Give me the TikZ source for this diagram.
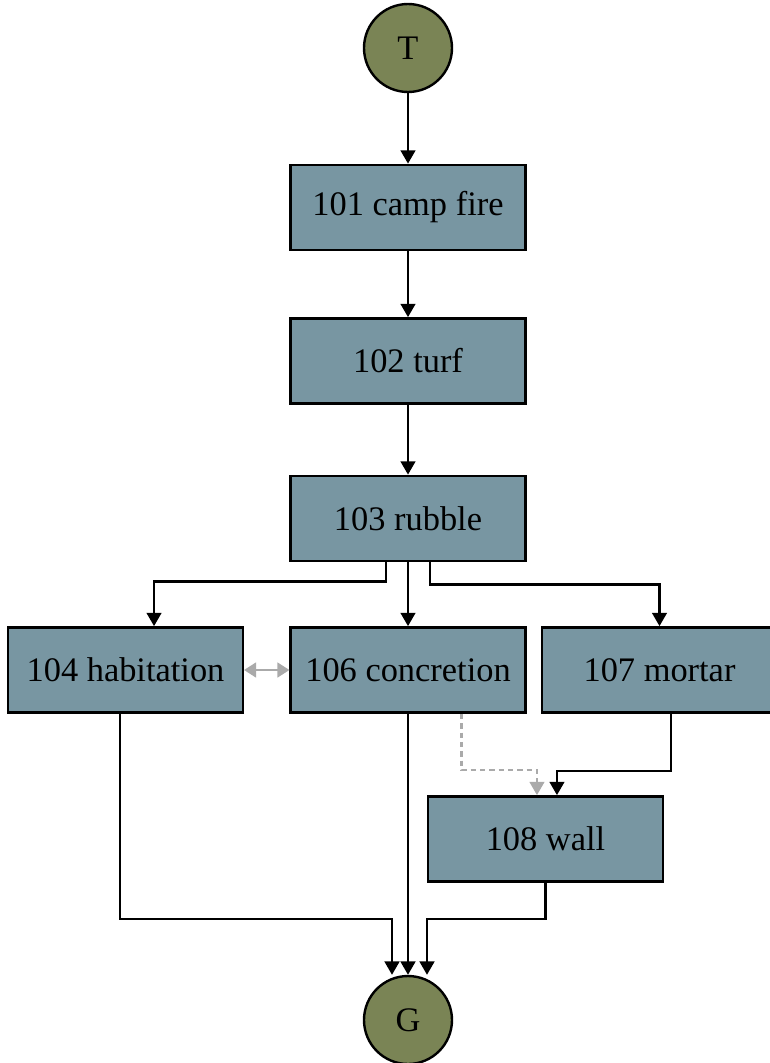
\documentclass[tikz,border=0pt]{standalone}
\usepackage{fontspec}
\setmainfont{Liberation Serif}
\usepackage{xcolor}
\usepackage{tikz}
\usetikzlibrary{arrows.meta, positioning}

\definecolor{unitfill}{HTML}{7896A2}
\definecolor{termfill}{HTML}{7A8455}
\definecolor{relgray}{HTML}{AAAAAA}

\tikzset{
  unit/.style={draw=black, line width=1.8pt, fill=unitfill, minimum width=176pt, minimum height=64pt, inner sep=0pt},
  term/.style={draw=black, line width=1.8pt, fill=termfill, circle, minimum size=66pt, inner sep=0pt},
  edge/.style={line width=1.8pt, -{Triangle[length=10pt,width=11pt]}},
  biedge/.style={line width=1.8pt, draw=relgray, {Triangle[length=9pt,width=11pt]}-{Triangle[length=9pt,width=11pt]}},
  dashedge/.style={line width=1.8pt, draw=relgray, dash pattern=on 4pt off 3pt, -{Triangle[length=10pt,width=11pt,fill=relgray]}}
}

\begin{document}
\begin{tikzpicture}[x=0.75pt, y=-0.75pt, font=\fontsize{25.8}{30}\selectfont]

\useasboundingbox (0,0) rectangle (769,1063);

\node[term] (T) at (408, 48) {T};
\node[unit] (r101) at (408, 207.5) {101 camp fire};
\node[unit] (r102) at (408, 361) {102 turf};
\node[unit] (r103) at (408, 518.5) {103 rubble};
\node[unit] (r104) at (125.5, 670) {104 habitation};
\node[unit] (r106) at (408, 670) {106 concretion};
\node[unit] (r107) at (659.5, 670) {107 mortar};
\node[unit] (r108) at (545.5, 839) {108 wall};
\node[term] (G) at (408, 1020) {G};

\draw[edge] (T) -- (r101);
\draw[edge] (r101) -- (r102);
\draw[edge] (r102) -- (r103);

% split below rubble
\draw[edge] ([xshift=-16.5pt]r103.south) -- ++(0,19) -| ([xshift=21.4pt]r104.north);
\draw[edge] (r103) -- (r106);
\draw[edge] ([xshift=16.5pt]r103.south) -- ++(0,22) -| (r107.north);

\draw[biedge] (r104) -- (r106);
\draw[dashedge] ([xshift=40pt]r106.south) -- ++(0,56) -| ([xshift=-6.4pt]r108.north);
\draw[edge] ([xshift=8.6pt]r107.south) -- ++(0,57) -| ([xshift=8.6pt]r108.north);

% into G
\draw[edge] ([xshift=-4.1pt]r104.south) -- ++(0,205) -| ([xshift=-12pt]G.north);
\draw[edge] (r106) -- (G);
\draw[edge] (r108.south) -- ++(0,36) -| ([xshift=14.25pt]G.north);

\end{tikzpicture}
\end{document}
